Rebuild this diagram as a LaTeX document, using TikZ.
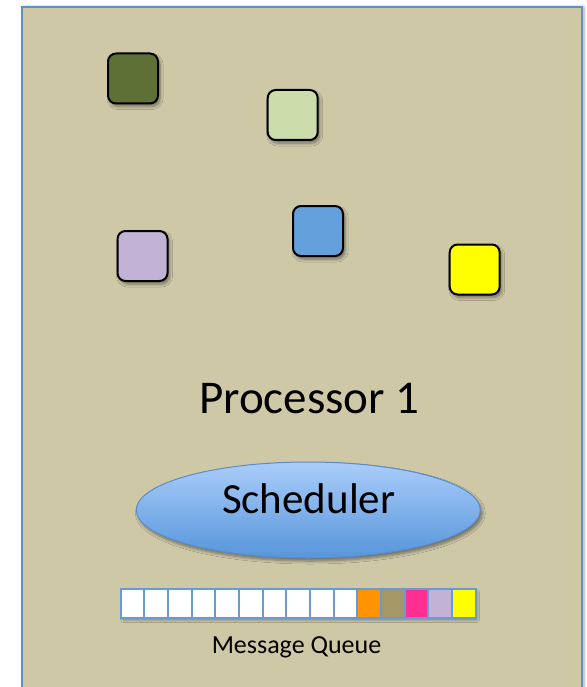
\documentclass[tikz,border=0pt]{standalone}
\usepackage{fontspec}
\setmainfont{Carlito}
\usetikzlibrary{shapes.geometric,shadows.blur}

\definecolor{panel}{HTML}{CEC8A7}
\definecolor{frameblue}{HTML}{5B8FD0}
\definecolor{cellblue}{HTML}{6A9AD2}
\definecolor{taskdark}{HTML}{5E7035}
\definecolor{tasklight}{HTML}{CCDDAB}
\definecolor{tasklav}{HTML}{C2B3D6}
\definecolor{taskblue}{HTML}{64A0DC}
\definecolor{taskyel}{HTML}{FFFF00}
\definecolor{msgorange}{HTML}{FF9300}
\definecolor{msgkhaki}{HTML}{A59866}
\definecolor{msgpink}{HTML}{FF2E93}
\definecolor{schedtop}{HTML}{AACDFA}
\definecolor{schedbot}{HTML}{5795DA}
\definecolor{schedline}{HTML}{5A8CCB}

\tikzset{
  softshadow/.style={blur shadow={shadow xshift=2pt, shadow yshift=-3pt,
      shadow blur steps=6, shadow blur radius=3pt, shadow opacity=45}},
  task/.style={draw=black, line width=2pt, rounded corners=8pt,
      minimum width=50pt, minimum height=50pt, inner sep=0pt, softshadow},
  cell/.style={draw=cellblue, line width=2pt, minimum width=23.67pt,
      minimum height=29pt, inner sep=0pt, fill=white},
  bigtext/.style={font=\fontsize{47}{56}\selectfont, anchor=base},
}

\begin{document}
\begin{tikzpicture}[x=1pt, y=-1pt]
  \useasboundingbox (0,0) rectangle (586,687);

  % processor panel
  \path[fill=panel, draw=frameblue, line width=2pt,
        blur shadow={shadow xshift=2pt, shadow yshift=0pt, shadow blur steps=6,
        shadow blur radius=3pt, shadow opacity=35}]
    (22,7) rectangle (582,700);

  % tasks on the processor
  \node[task, fill=taskdark]  (t1) at (133,78.5) {};
  \node[task, fill=tasklight] (t2) at (292.7,115) {};
  \node[task, fill=tasklav]   (t3) at (142.5,256) {};
  \node[task, fill=taskblue]  (t4) at (318,231) {};
  \node[task, fill=taskyel]   (t5) at (474.7,269.5) {};

  \node[bigtext] (proc) at (309.3,413.3) {Processor 1};

  % scheduler
  \node[ellipse, draw=schedline, line width=1pt, top color=schedtop,
        bottom color=schedbot, minimum width=344pt, minimum height=96pt,
        inner sep=0pt, softshadow] (sched) at (308.3,510) {};
  \node[font=\fontsize{43}{52}\selectfont, anchor=base] (schedtext)
    at (308.7,513.3) {Scheduler};

  % message queue: soft shadow under the whole row, then the cells
  \path[fill=panel, softshadow] (121.7,589.5) rectangle (474.7,616.5);
  \foreach \i/\c in {1/white,2/white,3/white,4/white,5/white,6/white,
                     7/white,8/white,9/white,10/white,11/msgorange,
                     12/msgkhaki,13/msgpink,14/tasklav,15/taskyel}{
    \node[cell, fill=\c] (q\i) at ({120.7+23.67*(\i-0.5)},603) {};
  }
  \node[font=\fontsize{26}{31}\selectfont, anchor=base] (qlabel)
    at (296.5,653.3) {Message Queue};
\end{tikzpicture}
\end{document}
